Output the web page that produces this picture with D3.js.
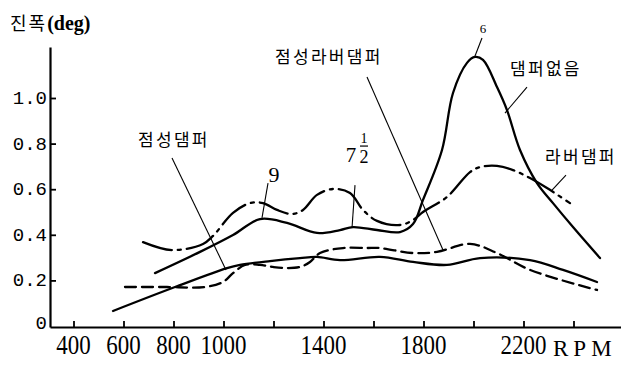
<!DOCTYPE html>
<html>
<head>
<meta charset="utf-8">
<script src="https://cdn.jsdelivr.net/npm/d3@7"></script>
<style>
  body { margin: 0; background: #fff; }
  svg { display: block; }
</style>
</head>
<body>
<svg id="chart" width="621" height="369"></svg>
<script>
// Torsional vibration amplitude (deg) against engine speed (RPM)
const rpmTicks = [400, 600, 800, 1000, 1200, 1400, 1600, 1800, 2000, 2200, 2400];
const rpmLabels = [400, 600, 800, 1000, 1400, 1800, 2200];
const ampTicks = [0, 0.2, 0.4, 0.6, 0.8, 1.0];
const ampLabels = ["0", "0.2", "0.4", "0.6", "0.8", "1.0"];

// 댐퍼없음 (no damper)
const noDamper = [
  [726, 0.232], [906, 0.325], [1038, 0.399], [1146, 0.469], [1254, 0.452],
  [1374, 0.408], [1466, 0.421], [1518, 0.434], [1614, 0.421], [1706, 0.412],
  [1758, 0.447], [1798, 0.553], [1874, 0.772], [1918, 1.022], [1974, 1.154],
  [2006, 1.180], [2038, 1.167], [2094, 1.048], [2134, 0.947], [2186, 0.772],
  [2254, 0.627], [2318, 0.539], [2398, 0.434], [2506, 0.298]
];
// 라버댐퍼 (rubber damper)
const rubberDamper = [
  [678, 0.368], [794, 0.333], [918, 0.360], [958, 0.395], [1038, 0.496],
  [1106, 0.539], [1158, 0.539], [1214, 0.509], [1274, 0.491], [1318, 0.509],
  [1374, 0.575], [1438, 0.601], [1506, 0.583], [1558, 0.509], [1614, 0.461],
  [1706, 0.443], [1758, 0.465], [1798, 0.500], [1894, 0.566], [1986, 0.675],
  [2026, 0.697], [2094, 0.702], [2158, 0.684], [2226, 0.649], [2294, 0.605],
  [2386, 0.539]
];
// 점성댐퍼 (viscous damper)
const viscousDamper = [
  [558, 0.066], [806, 0.171], [1014, 0.254], [1066, 0.268], [1186, 0.285],
  [1306, 0.298], [1374, 0.303], [1466, 0.289], [1626, 0.303], [1758, 0.281],
  [1894, 0.268], [2026, 0.298], [2226, 0.289], [2358, 0.246], [2494, 0.193]
];
// 점성라버댐퍼 (viscous rubber damper)
const viscousRubberDamper = [
  [606, 0.171], [774, 0.171], [926, 0.171], [998, 0.193], [1038, 0.232],
  [1086, 0.268], [1146, 0.268], [1198, 0.259], [1254, 0.254], [1306, 0.259],
  [1346, 0.281], [1386, 0.320], [1478, 0.342], [1574, 0.342], [1626, 0.342],
  [1758, 0.320], [1854, 0.325], [1986, 0.360], [2094, 0.320], [2226, 0.246],
  [2494, 0.158]
];

// Curve names with leader lines: [label, labelRpm, labelAmp, fromRpm, fromAmp, toRpm, toAmp]
const curveNotes = [
  ["점성댐퍼", 658, 0.789, 794, 0.737, 1010, 0.246],
  ["점성라버댐퍼", 1206, 1.154, 1574, 1.092, 1878, 0.333],
  ["댐퍼없음", 2146, 1.101, 2214, 1.048, 2126, 0.934],
  ["라버댐퍼", 2286, 0.715, 2370, 0.662, 2314, 0.596]
];
// Vibration order marks: [order, labelRpm, labelAmp, fromRpm, fromAmp, toRpm, toAmp]
const orderNotes = [
  ["9", 1202, 0.632, 1178, 0.627, 1154, 0.474],
  ["7½", 1510, 0.719, 1526, 0.618, 1514, 0.430],
  ["6", 2038, 1.285, 2034, 1.263, 2006, 1.184]
];

const svg = d3.select("#chart");
const W = 621;

const x = d3.scaleLinear().domain([400, 2400]).range([73.5, 573.5]);
const y = d3.scaleLinear().domain([0, 1]).range([326, 98]);

const axisLeftX = 50, axisBottomY = 327, axisTopY = 47;

// axes
const xAxisScale = d3.scaleLinear()
  .domain([x.invert(axisLeftX), x.invert(W)])
  .range([axisLeftX, W]);
const yAxisScale = d3.scaleLinear()
  .domain([y.invert(axisBottomY), y.invert(axisTopY)])
  .range([axisBottomY, axisTopY]);

const gx = svg.append("g")
  .attr("transform", `translate(0,${axisBottomY})`)
  .call(d3.axisBottom(xAxisScale).tickValues(rpmTicks).tickSize(-6).tickSizeOuter(0).tickFormat(""));
const gy = svg.append("g")
  .attr("transform", `translate(${axisLeftX},0)`)
  .call(d3.axisLeft(yAxisScale).tickValues(ampTicks.filter(v => v > 0)).tickSize(-6).tickSizeOuter(0).tickFormat(""));
[gx, gy].forEach(g => {
  g.select(".domain").attr("stroke", "#000").attr("stroke-width", 2.2);
  g.selectAll(".tick line").attr("stroke", "#000").attr("stroke-width", 1.8);
});

// x tick labels (narrow serif numerals)
svg.append("g").selectAll("text")
  .data(rpmLabels)
  .join("text")
  .attr("transform", d => `translate(${x(d)},354) scale(0.85,1)`)
  .attr("text-anchor", "middle")
  .attr("font-family", "Liberation Serif, serif")
  .attr("font-size", 27)
  .attr("fill", "#000")
  .text(d => d);

svg.append("text")
  .attr("x", 553).attr("y", 356)
  .attr("font-family", "Liberation Serif, serif")
  .attr("font-size", 23)
  .attr("letter-spacing", 5)
  .attr("fill", "#000")
  .text("RPM");

// y tick labels (typewriter style)
svg.append("g").selectAll("text")
  .data(ampTicks)
  .join("text")
  .attr("x", 47)
  .attr("y", d => y(d) + (d === 0 ? 3 : 6))
  .attr("text-anchor", "end")
  .attr("font-family", "Liberation Mono, monospace")
  .attr("font-size", 19)
  .attr("fill", "#000")
  .text((d, i) => ampLabels[i]);

// y axis title
const title = svg.append("text")
  .attr("x", 10).attr("y", 30)
  .attr("fill", "#000");
title.append("tspan")
  .attr("font-family", "Noto Sans CJK KR, sans-serif")
  .attr("font-size", 18)
  .attr("letter-spacing", 2)
  .text("진폭");
title.append("tspan")
  .attr("font-family", "Liberation Serif, serif")
  .attr("font-weight", "bold")
  .attr("font-size", 20)
  .text("(deg)");

// curves
const line = d3.line()
  .x(d => x(d[0]))
  .y(d => y(d[1]))
  .curve(d3.curveCatmullRom.alpha(0.5));

const series = [
  { data: viscousDamper, dash: null },
  { data: viscousRubberDamper, dash: "11,6" },
  { data: rubberDamper, dash: "30,6,3,6" },
  { data: noDamper, dash: null }
];
svg.append("g").selectAll("path")
  .data(series)
  .join("path")
  .attr("d", s => line(s.data))
  .attr("fill", "none")
  .attr("stroke", "#000")
  .attr("stroke-width", 2.3)
  .attr("stroke-linecap", "round")
  .attr("stroke-dasharray", s => s.dash);

// leader lines
const leaders = curveNotes.concat(orderNotes);
svg.append("g").selectAll("line")
  .data(leaders)
  .join("line")
  .attr("x1", d => x(d[3])).attr("y1", d => y(d[4]))
  .attr("x2", d => x(d[5])).attr("y2", d => y(d[6]))
  .attr("stroke", "#000")
  .attr("stroke-width", 1.1);

// curve names
svg.append("g").selectAll("text")
  .data(curveNotes)
  .join("text")
  .attr("x", d => x(d[1]))
  .attr("y", d => y(d[2]))
  .attr("font-family", "Noto Sans CJK KR, sans-serif")
  .attr("font-size", 17)
  .attr("letter-spacing", 2.3)
  .attr("fill", "#000")
  .text(d => d[0]);

// order numbers
orderNotes.forEach(d => {
  const px = x(d[1]), py = y(d[2]);
  if (d[0] === "7½") {
    const g = svg.append("g").attr("font-family", "Liberation Serif, serif").attr("fill", "#000");
    g.append("text").attr("x", px).attr("y", py).attr("text-anchor", "middle")
      .attr("font-size", 21).text("7");
    g.append("text").attr("x", px + 13).attr("y", py - 19).attr("text-anchor", "middle")
      .attr("font-size", 14).text("1");
    g.append("line").attr("x1", px + 9).attr("x2", px + 17)
      .attr("y1", py - 16).attr("y2", py - 16).attr("stroke", "#000").attr("stroke-width", 1.2);
    g.append("text").attr("x", px + 13).attr("y", py + 1).attr("text-anchor", "middle")
      .attr("font-size", 18).text("2");
  } else {
    svg.append("text")
      .attr("x", px).attr("y", py)
      .attr("text-anchor", "middle")
      .attr("font-family", "Liberation Serif, serif")
      .attr("font-size", d[0] === "6" ? 13 : 22)
      .attr("fill", "#000")
      .text(d[0]);
  }
});
</script>
</body>
</html>
